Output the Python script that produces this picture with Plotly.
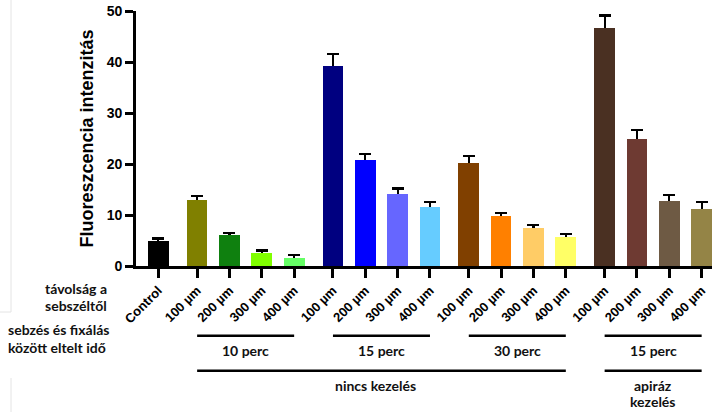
import plotly.graph_objects as go

# ---- data ----
labels = ["Control",
          "100 µm", "200 µm", "300 µm", "400 µm",
          "100 µm", "200 µm", "300 µm", "400 µm",
          "100 µm", "200 µm", "300 µm", "400 µm",
          "100 µm", "200 µm", "300 µm", "400 µm"]
group_of = [0, 1, 1, 1, 1, 2, 2, 2, 2, 3, 3, 3, 3, 4, 4, 4, 4]
values = [5.0,
          12.9, 6.0, 2.55, 1.65,
          39.2, 20.75, 14.2, 11.6,
          20.1, 9.8, 7.5, 5.6,
          46.6, 25.0, 12.7, 11.1]
errors = [0.4,
          0.8, 0.5, 0.5, 0.5,
          2.3, 1.2, 1.0, 0.9,
          1.4, 0.65, 0.5, 0.6,
          2.5, 1.6, 1.3, 1.4]
colors = ["#000000",
          "#808000", "#0f800f", "#80ff00", "#66ff66",
          "#000080", "#0000ff", "#6666ff", "#66ccff",
          "#804000", "#ff8000", "#ffcc66", "#ffff66",
          "#4a3022", "#6e3a32", "#6e5a44", "#948446"]
time_labels = ["10 perc", "15 perc", "30 perc", "15 perc"]
treat_labels = ["nincs kezelés", "apiráz", "kezelés"]

GAP = 0.2
xpos = [i + GAP * g for i, g in enumerate(group_of)]

fig = go.Figure()
# error bars drawn first (hidden below their own bars), stems reach down to 0
fig.add_trace(go.Bar(
    x=xpos, y=values, width=0.64, marker=dict(color=colors, line=dict(width=0)),
    error_y=dict(type="data", symmetric=False, array=errors, arrayminus=values,
                 color="black", thickness=2.2, width=6),
    showlegend=False, hoverinfo="skip"))
fig.add_trace(go.Bar(
    x=xpos, y=values, width=0.64, marker=dict(color=colors, line=dict(width=0)),
    showlegend=False))

lab_font = dict(family="Lato, Open Sans, sans-serif", size=14, color="#111", weight="bold")

shapes = []
annotations = []
PX = 255.0  # plot height in px


def py(ypix):
    return (266 - ypix) / PX


def pxx(xpix):
    return (xpix - 136) / 576.0


for gi in range(1, 5):
    xs = [x for x, g in zip(xpos, group_of) if g == gi]
    shapes.append(dict(type="line", xref="x", yref="paper", x0=xs[0], x1=xs[-1],
                       y0=py(335.7), y1=py(335.7), line=dict(color="black", width=2.5)))
    annotations.append(dict(xref="x", yref="paper", x=(xs[0] + xs[-1]) / 2, y=py(350),
                            text=time_labels[gi - 1], showarrow=False, font=lab_font,
                            xanchor="center", yanchor="middle"))

nin = [x for x, g in zip(xpos, group_of) if g in (1, 2, 3)]
api = [x for x, g in zip(xpos, group_of) if g == 4]
shapes.append(dict(type="line", xref="x", yref="paper", x0=nin[0], x1=nin[-1],
                   y0=py(370.7), y1=py(370.7), line=dict(color="black", width=2.5)))
shapes.append(dict(type="line", xref="x", yref="paper", x0=api[0], x1=api[-1],
                   y0=py(370.7), y1=py(370.7), line=dict(color="black", width=2.5)))
annotations.append(dict(xref="x", yref="paper", x=(nin[0] + nin[-1]) / 2 - 0.18, y=py(385),
                        text=treat_labels[0], showarrow=False, font=lab_font,
                        xanchor="center", yanchor="middle"))
annotations.append(dict(xref="x", yref="paper", x=(api[0] + api[-1]) / 2, y=py(385),
                        text=treat_labels[1], showarrow=False, font=lab_font,
                        xanchor="center", yanchor="middle"))
annotations.append(dict(xref="x", yref="paper", x=(api[0] + api[-1]) / 2, y=py(401),
                        text=treat_labels[2], showarrow=False, font=lab_font,
                        xanchor="center", yanchor="middle"))

# left-side labels
for txt, yp in [("távolság a", 288), ("sebszéltől", 306)]:
    annotations.append(dict(xref="paper", yref="paper", x=pxx(109), y=py(yp), text=txt,
                            showarrow=False, font=lab_font, xanchor="right", yanchor="middle"))
for txt, yp in [("sebzés és fixálás", 329), ("között eltelt idő", 347)]:
    annotations.append(dict(xref="paper", yref="paper", x=pxx(6), y=py(yp), text=txt,
                            showarrow=False, font=lab_font, xanchor="left", yanchor="middle"))

# faint frame remnants at the left
shapes.append(dict(type="line", xref="paper", yref="paper", x0=pxx(11), x1=pxx(11),
                   y0=py(0), y1=py(312), line=dict(color="#e4e4e4", width=1)))
shapes.append(dict(type="line", xref="paper", yref="paper", x0=pxx(0), x1=pxx(11),
                   y0=py(312), y1=py(312), line=dict(color="#e4e4e4", width=1)))
shapes.append(dict(type="line", xref="paper", yref="paper", x0=pxx(11), x1=pxx(11),
                   y0=py(378), y1=py(412), line=dict(color="#e4e4e4", width=1)))

axis_font = dict(family="Arial, Liberation Sans, sans-serif", size=14, color="black", weight="bold")

fig.update_layout(
    width=717, height=412,
    margin=dict(l=136, r=5, t=11, b=146, pad=0, autoexpand=False),
    paper_bgcolor="white", plot_bgcolor="white",
    barmode="overlay", bargap=0,
    shapes=shapes, annotations=annotations,
    xaxis=dict(range=[-0.69, 17.12], tickvals=xpos, ticktext=labels, tickangle=-45,
               automargin=False,
               showline=True, linecolor="black", linewidth=2.6,
               ticks="outside", ticklen=9, tickwidth=2.5, tickcolor="black",
               showgrid=False, zeroline=False,
               tickfont=dict(family="Arial, Liberation Sans, sans-serif", size=13,
                             color="black", weight="bold")),
    yaxis=dict(range=[0, 50], tickvals=[0, 10, 20, 30, 40, 50], automargin=False,
               showline=True, linecolor="black", linewidth=2.8,
               ticks="outside", ticklen=8, tickwidth=2.5, tickcolor="black",
               showgrid=False, zeroline=False, tickfont=axis_font,
               title=dict(text="Fluoreszcencia intenzitás", standoff=9,
                          font=dict(family="Arial, Liberation Sans, sans-serif", size=18,
                                    color="black", weight="bold"))),
)

fig.write_html("out.html", config={"displayModeBar": False},
               post_script="document.body.style.margin='0';document.body.style.overflow='hidden';")
